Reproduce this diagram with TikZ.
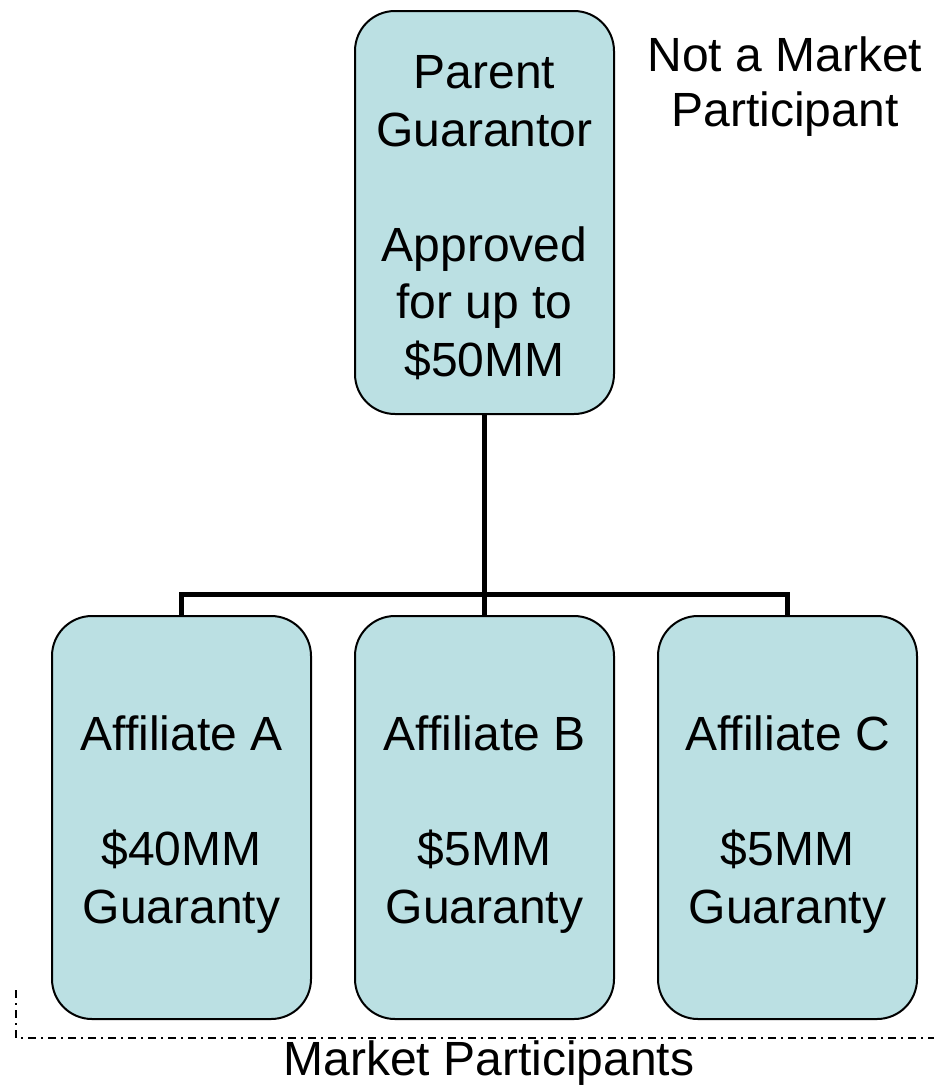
\documentclass[tikz,border=0pt]{standalone}
\usepackage{fontspec}
\setmainfont{Liberation Sans}
\usetikzlibrary{calc}
\definecolor{boxfill}{RGB}{187,224,227}
\tikzset{
  card/.style={draw=black, line width=2pt, fill=boxfill, rounded corners=40pt,
    minimum width=259pt, minimum height=403pt, inner sep=0pt},
  cardtext/.style={align=center, inner sep=0pt, font=\fontsize{48}{57.5}\selectfont},
  conn/.style={draw=black, line width=5pt},
  lbl/.style={align=center, font=\fontsize{48}{55}\selectfont, inner sep=0pt},
  boundary/.style={draw=black, line width=2pt, dash pattern=on 8pt off 5pt on 2pt off 5pt}
}
\begin{document}
\begin{tikzpicture}[x=1pt,y=-1pt]
\useasboundingbox (0,0) rectangle (934,1085);
\node[card] (parent) at (484.5,212.5) {};
\node[card] (a) at (181.5,817.5) {};
\node[card] (b) at (484.5,817.5) {};
\node[card] (c) at (787.5,817.5) {};
\node[cardtext] (pt) at ($(parent.center)+(0,5)$) {Parent\\Guarantor\\[57.5pt]Approved\\for up to\\\$50MM};
\node[cardtext] (at) at ($(a.center)+(0,7)$) {Affiliate A\\[57.5pt]\$40MM\\Guaranty};
\node[cardtext] (bt) at ($(b.center)+(0,7)$) {Affiliate B\\[57.5pt]\$5MM\\Guaranty};
\node[cardtext] (ct) at ($(c.center)+(0,7)$) {Affiliate C\\[57.5pt]\$5MM\\Guaranty};
\coordinate (j) at (484.5,594);
\draw[conn] (parent.south) -- (b.north);
\draw[conn, line join=miter] (a.north) |- (j) -| (c.north);
\node[lbl] (np) at (785,87) {Not a Market\\Participant};
\coordinate (bl1) at (16,990);
\coordinate (bl2) at (16,1038);
\coordinate (bl3) at (934,1038);
\draw[boundary] (bl1) -- (bl2) -- (bl3);
\node[lbl] (mp) at (489,1063) {Market Participants};
\end{tikzpicture}
\end{document}
